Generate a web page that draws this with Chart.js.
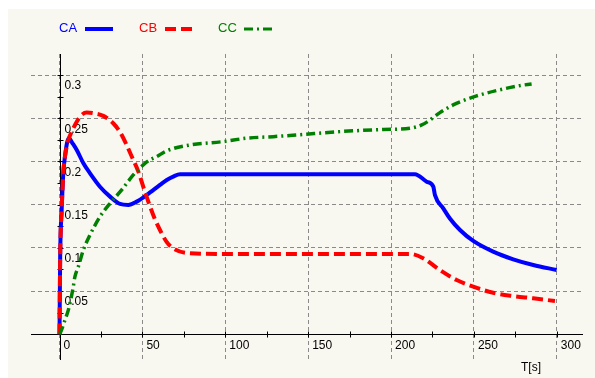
<!DOCTYPE html>
<html>
<head>
<meta charset="utf-8">
<script src="https://cdn.jsdelivr.net/npm/chart.js@4.4.1/dist/chart.umd.min.js"></script>
<style>
  html, body { margin: 0; padding: 0; background: #ffffff; }
  #wrap { width: 595px; height: 378px; }
</style>
</head>
<body>
<div id="wrap"><canvas id="myChart" width="595" height="378"></canvas></div>
<script>
// CA - blauw, doorgetrokken
const caTime = [0, 0.4, 1.3, 2.3, 3.3, 4.5, 5.7, 7.5, 10.4, 14.4, 18.4, 24.4, 30.5, 36.5, 41.5, 46.6, 52.6, 60.6, 64.7, 68.6, 72.7, 214.4, 221.5, 225.5, 226.5, 231.5, 235.5, 241.6, 249.6, 261.6, 273.7, 285.8, 299.9];
const caValues = [0, 0.09, 0.144, 0.187, 0.2056, 0.221, 0.227, 0.222, 0.2133, 0.1979, 0.1863, 0.1708, 0.1593, 0.1508, 0.1497, 0.1535, 0.1612, 0.1728, 0.1786, 0.1825, 0.1852, 0.1852, 0.1766, 0.1708, 0.161, 0.1458, 0.134, 0.1207, 0.108, 0.0956, 0.0868, 0.0802, 0.0744];

// CB - rood, gestreept
const cbTime = [0, 0.4, 1.3, 2.3, 3.3, 4.5, 5.7, 7.4, 10.4, 13.4, 16.4, 20.4, 26.4, 32.4, 36.5, 40.5, 43.5, 47.5, 51.5, 54.6, 57.6, 60.6, 64.6, 68.6, 78.7, 100, 211.4, 219.4, 229.5, 239.6, 249.6, 261.6, 273.7, 285.8, 298.9];
const cbValues = [0, 0.09, 0.144, 0.187, 0.2056, 0.219, 0.227, 0.2345, 0.246, 0.2538, 0.2565, 0.2558, 0.2527, 0.2442, 0.234, 0.219, 0.206, 0.1885, 0.165, 0.148, 0.133, 0.1207, 0.107, 0.0995, 0.0938, 0.093, 0.093, 0.088, 0.0744, 0.0628, 0.0551, 0.0481, 0.0443, 0.0417, 0.0385];

// CC - groen, streep-punt
const ccTime = [0, 1, 3.3, 5.3, 7, 8.3, 9.3, 11.3, 14.4, 18.4, 24.4, 30.5, 37.5, 44.5, 50.5, 54.6, 58.6, 64.7, 78.7, 98.8, 112.9, 129, 145.2, 169.2, 195.3, 211.4, 218.5, 223.5, 229.5, 237.5, 243.5, 251.6, 263.7, 277.7, 284.8];
const ccValues = [0, 0.004, 0.0166, 0.028, 0.042, 0.055, 0.0667, 0.078, 0.0976, 0.115, 0.136, 0.1516, 0.167, 0.1844, 0.196, 0.202, 0.2056, 0.2123, 0.219, 0.223, 0.2269, 0.2287, 0.231, 0.2345, 0.237, 0.2384, 0.2422, 0.248, 0.2565, 0.2654, 0.2704, 0.2758, 0.282, 0.2877, 0.2897];

// assen
const xTicks = [0, 50, 100, 150, 200, 250, 300];
const xTickLabels = ['0', '50', '100', '150', '200', '250', '300'];
const xMinorTicks = [25, 75, 125, 175, 225, 275];
const yTicks = [0, 0.05, 0.1, 0.15, 0.2, 0.25, 0.3];
const yTickLabels = ['', '0.05', '0.1', '0.15', '0.2', '0.25', '0.3'];
const yMinorTicks = [0.025, 0.075, 0.125, 0.175, 0.225, 0.275];
const seriesNames = ['CA', 'CB', 'CC'];
const xAxisTitle = 'T[s]';

const colors = ['#0000ff', '#ff0000', '#008000'];
const dashes = [[], [11, 5], [9, 4, 2, 4]];

function toPoints(t, v) {
    return t.map((x, i) => ({ x: x, y: v[i] }));
}

// eigen tekenwerk: achtergrond, assen, labels, legenda
const plotDecor = {
    id: 'plotDecor',
    beforeDraw(chart) {
        const ctx = chart.ctx;
        ctx.save();
        ctx.fillStyle = '#ffffff';
        ctx.fillRect(0, 0, chart.width, chart.height);
        ctx.fillStyle = '#f9f8f0';
        ctx.fillRect(8, 9, chart.width - 8, chart.height - 9);
        ctx.restore();
    },
    beforeDatasetsDraw(chart) {
        const ctx = chart.ctx;
        const area = chart.chartArea;
        const xs = chart.scales.x;
        const ys = chart.scales.y;
        const x0 = Math.round(xs.getPixelForValue(0)) + 0.5;
        const y0 = Math.round(ys.getPixelForValue(0)) + 0.5;

        ctx.save();
        // aslijnen
        ctx.strokeStyle = '#000000';
        ctx.lineWidth = 1;
        ctx.beginPath();
        ctx.moveTo(area.left, y0);
        ctx.lineTo(area.right, y0);
        ctx.moveTo(x0, area.top);
        ctx.lineTo(x0, area.bottom);
        // streepjes op de assen
        xTicks.concat(xMinorTicks).forEach(v => {
            if (v === 0) return;
            const px = Math.round(xs.getPixelForValue(v)) + 0.5;
            ctx.moveTo(px, y0 - 3);
            ctx.lineTo(px, y0 + 3);
        });
        yTicks.concat(yMinorTicks).forEach(v => {
            if (v === 0) return;
            const py = Math.round(ys.getPixelForValue(v)) + 0.5;
            ctx.moveTo(x0 - 3, py);
            ctx.lineTo(x0 + 3, py);
        });
        ctx.stroke();

        // tick labels
        ctx.fillStyle = '#000000';
        ctx.font = '12px "Liberation Sans", Arial, sans-serif';
        ctx.textAlign = 'left';
        ctx.textBaseline = 'middle';
        xTicks.forEach((v, i) => {
            ctx.fillText(xTickLabels[i], xs.getPixelForValue(v) + 4, y0 + 11);
        });
        yTicks.forEach((v, i) => {
            if (!yTickLabels[i]) return;
            ctx.fillText(yTickLabels[i], x0 + 4, ys.getPixelForValue(v) + 11);
        });
        ctx.fillText(xAxisTitle, 521, 368);

        // legenda: tekst, dan lijnstuk
        ctx.font = '13px "Liberation Sans", Arial, sans-serif';
        const legendX = [59, 139, 218];
        seriesNames.forEach((name, i) => {
            ctx.fillStyle = colors[i];
            ctx.fillText(name, legendX[i], 28);
            ctx.strokeStyle = colors[i];
            ctx.lineWidth = i === 2 ? 3 : 4;
            ctx.setLineDash(dashes[i]);
            ctx.beginPath();
            ctx.moveTo(legendX[i] + 26, 29);
            ctx.lineTo(legendX[i] + 54, 29);
            ctx.stroke();
        });
        ctx.restore();
    }
};

const ChartCanvas = document.getElementById('myChart');

new Chart(ChartCanvas, {
    type: 'line',
    data: {
        datasets: [
            {
                label: seriesNames[0],
                data: toPoints(caTime, caValues),
                borderColor: colors[0],
                borderWidth: 4,
                order: 3
            },
            {
                label: seriesNames[1],
                data: toPoints(cbTime, cbValues),
                borderColor: colors[1],
                borderWidth: 4,
                borderDash: dashes[1],
                order: 2
            },
            {
                label: seriesNames[2],
                data: toPoints(ccTime, ccValues),
                borderColor: colors[2],
                borderWidth: 3.5,
                borderDash: dashes[2],
                order: 1
            }
        ]
    },
    options: {
        responsive: false,
        animation: false,
        devicePixelRatio: 1,
        layout: { padding: { left: 31, top: 54, right: 12, bottom: 18 } },
        elements: {
            point: { radius: 0, hoverRadius: 0 },
            line: { cubicInterpolationMode: 'monotone', fill: false, borderCapStyle: 'butt' }
        },
        plugins: {
            legend: { display: false },
            tooltip: { enabled: false }
        },
        scales: {
            x: {
                type: 'linear',
                min: -17.2,
                max: 315.8,
                afterBuildTicks: axis => { axis.ticks = xTicks.map(v => ({ value: v })); },
                ticks: { display: false },
                grid: { color: '#8a8a8a', lineWidth: 1, drawTicks: false },
                border: { display: false, dash: [4, 3] }
            },
            y: {
                type: 'linear',
                min: -0.0297,
                max: 0.3243,
                afterBuildTicks: axis => { axis.ticks = yTicks.map(v => ({ value: v })); },
                ticks: { display: false },
                grid: { color: '#8a8a8a', lineWidth: 1, drawTicks: false },
                border: { display: false, dash: [4, 3] }
            }
        }
    },
    plugins: [plotDecor]
});
</script>
</body>
</html>
